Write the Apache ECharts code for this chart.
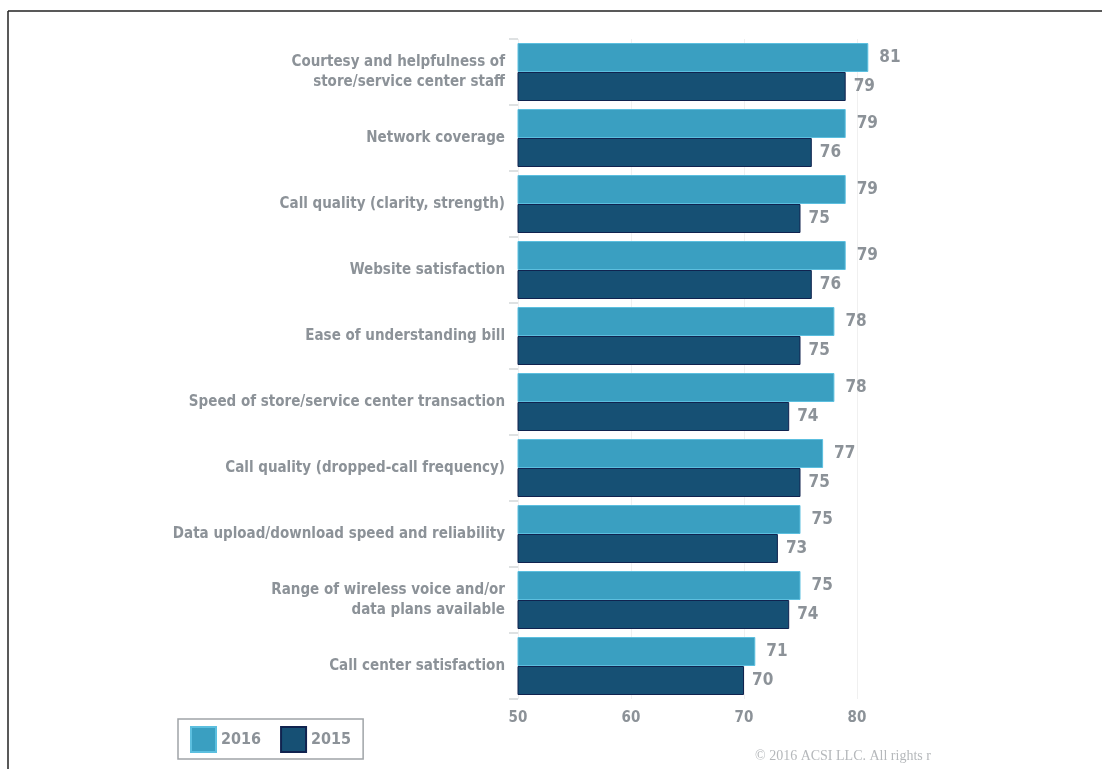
<!DOCTYPE html>
<html>
<head>
<meta charset="utf-8">
<script src="https://cdn.jsdelivr.net/npm/echarts@6/dist/echarts.min.js"></script>
<style>
html,body{margin:0;padding:0;background:#fff;}
#c{width:1102px;height:769px;}
</style>
</head>
<body>
<div id="c"></div>
<script>
const categories = [
  "Courtesy and helpfulness of\nstore/service center staff",
  "Network coverage",
  "Call quality (clarity, strength)",
  "Website satisfaction",
  "Ease of understanding bill",
  "Speed of store/service center transaction",
  "Call quality (dropped-call frequency)",
  "Data upload/download speed and reliability",
  "Range of wireless voice and/or\ndata plans available",
  "Call center satisfaction"
];
const values2016 = [81, 79, 79, 79, 78, 78, 77, 75, 75, 71];
const values2015 = [79, 76, 75, 76, 75, 74, 75, 73, 74, 70];
const xTicks = [50, 60, 70, 80];
const copyright = "© 2016 ACSI LLC. All rights r";

const FONT = '"DejaVu Sans Condensed", "Liberation Sans Narrow", "Roboto", sans-serif';
const GREY = '#8c9298';

const chart = echarts.init(document.getElementById('c'));
chart.setOption({
  backgroundColor: '#ffffff',
  animation: false,
  grid: {left: 518, top: 39, width: 452, height: 660, containLabel: false},
  legend: {
    left: 178, top: 719,
    data: ['2016', '2015'],
    itemWidth: 25, itemHeight: 25, itemGap: 19,
    padding: [7, 12, 6, 12],
    borderColor: '#a0a4a8', borderWidth: 1.5,
    textStyle: {fontFamily: FONT, fontWeight: 'bold', fontSize: 16, color: GREY},
    icon: 'rect'
  },
  xAxis: {
    type: 'value', min: 50, max: 90, interval: 10,
    axisLine: {show: false},
    axisTick: {show: false},
    splitLine: {show: true, lineStyle: {color: ['#f0f0f0', '#f0f0f0', '#f0f0f0', '#f0f0f0', 'rgba(0,0,0,0)'], width: 1}},
    axisLabel: {
      margin: 12, fontFamily: FONT, fontWeight: 'bold', fontSize: 15, color: GREY,
      formatter: function (v) { return xTicks.indexOf(v) >= 0 ? String(v) : ''; }
    }
  },
  yAxis: {
    type: 'category', data: categories, inverse: true,
    axisLine: {show: false},
    axisTick: {show: true, length: 9, lineStyle: {color: '#d4d7d9', width: 1.5}},
    axisLabel: {
      margin: 13, fontFamily: FONT, fontWeight: 'bold', fontSize: 15, color: GREY,
      lineHeight: 20, align: 'right'
    }
  },
  graphic: [
    {type: 'line', shape: {x1: 8, y1: 11, x2: 1102, y2: 11}, style: {stroke: '#222', lineWidth: 1.5}},
    {type: 'line', shape: {x1: 8, y1: 11, x2: 8, y2: 769}, style: {stroke: '#222', lineWidth: 1.5}},
    {type: 'text', left: 755, top: 749,
      style: {text: copyright, font: '14px "Liberation Serif", "DejaVu Serif", serif', fill: '#b5b8bb'}}
  ],
  series: [
    {
      name: '2016', type: 'bar', data: values2016,
      barWidth: 29, barGap: '0%',
      itemStyle: {color: '#3a9fc1', borderColor: '#5cbfdf', borderWidth: 1},
      label: {show: true, position: 'right', distance: 11, fontFamily: FONT, fontWeight: 'bold', fontSize: 17, color: GREY}
    },
    {
      name: '2015', type: 'bar', data: values2015,
      barWidth: 29,
      itemStyle: {color: '#165074', borderColor: '#10234f', borderWidth: 1},
      label: {show: true, position: 'right', distance: 8, fontFamily: FONT, fontWeight: 'bold', fontSize: 17, color: GREY}
    }
  ]
});
</script>
</body>
</html>
